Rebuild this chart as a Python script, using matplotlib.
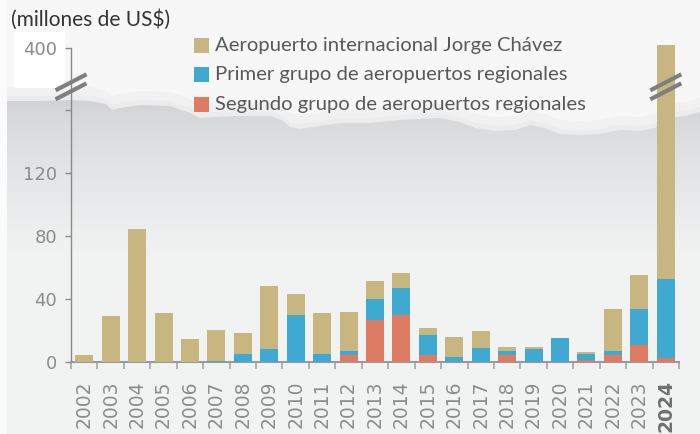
import numpy as np
import matplotlib
matplotlib.use("Agg")
import matplotlib.pyplot as plt
from matplotlib.patches import Rectangle, Polygon
from matplotlib.lines import Line2D

# ---------------- data ----------------
years = [str(y) for y in range(2002, 2025)]
segundo = [0, 0, 0, 0, 0, 0, 0, 0, 0, 0, 4.2, 26.7, 29.8, 4.2, 0, 0, 4.2, 0, 0, 1.3, 4.2, 10.6, 2.3]
primer = [0, 0, 0, 0, 0, 0.8, 5.3, 8.3, 29.8, 5.3, 3.0, 13.3, 17.4, 13.1, 3.2, 9.1, 3.0, 8.3, 15.4, 4.0, 3.0, 23.1, 50.4]
jorge = [4.4, 29.4, 84.4, 31.1, 14.6, 19.5, 13.1, 40.0, 13.4, 25.8, 24.5, 11.4, 9.3, 4.3, 12.7, 10.6, 2.3, 1.2, 0, 1.0, 26.5, 21.5, 359.0]
series_names = ["Aeropuerto internacional Jorge Chávez",
                "Primer grupo de aeropuertos regionales",
                "Segundo grupo de aeropuertos regionales"]
ytick_vals = [0, 40, 80, 120, 160, 400]
ytick_labels = ["0", "40", "80", "120", "", "400"]
title = "(millones de US$)"

C_TAN = "#c8b681"
C_BLUE = "#3fa9d1"
C_RED = "#dd7b63"

BREAK = 160.0
K = 0.164

def fwd(v):
    v = np.asarray(v, dtype=float)
    return np.where(v <= BREAK, v, BREAK + (v - BREAK) * K)

def inv(v):
    v = np.asarray(v, dtype=float)
    return np.where(v <= BREAK, v, BREAK + (v - BREAK) / K)

W, H = 700, 434
fig = plt.figure(figsize=(7, 4.34), dpi=100)
fig.patch.set_facecolor("#f2f3f3")

# ---------------- background (torn paper) ----------------
bg = fig.add_axes([0, 0, 1, 1], zorder=-5)
bg.set_xlim(0, W)
bg.set_ylim(H, 0)
bg.axis("off")
ys = np.linspace(0, 1, 400)
top_c = np.array([0.815, 0.82, 0.83])
bot_c = np.array([0.949, 0.953, 0.953])
t = np.clip((ys * H - 100) / 160.0, 0, 1) ** 0.7
grad = top_c[None, :] * (1 - t[:, None]) + bot_c[None, :] * t[:, None]
bg.imshow(grad[:, None, :], extent=[0, W, H, 0], aspect="auto", zorder=0)

edge = [(700, 112), (685, 116), (670, 118), (655, 128), (640, 131), (620, 130), (600, 134),
        (580, 135), (560, 134), (545, 128), (530, 125), (515, 130), (495, 131), (475, 128),
        (460, 122), (440, 118), (420, 119), (400, 120), (370, 123), (340, 123), (320, 126),
        (300, 129), (290, 127), (282, 120), (270, 116), (250, 116), (235, 116), (215, 117),
        (200, 118), (190, 113), (170, 106), (140, 105), (120, 108), (112, 110), (106, 104),
        (90, 101), (70, 100), (40, 101), (7, 101), (0, 101)]
poly_shadow = [(0, 0), (700, 0)] + edge
bg.add_patch(Polygon(poly_shadow, closed=True, facecolor="#ececed", edgecolor="none", zorder=1))
poly_mid = [(0, 0), (700, 0)] + [(x, y - 5) for x, y in edge]
bg.add_patch(Polygon(poly_mid, closed=True, facecolor="#f1f1f1", edgecolor="none", zorder=2))
poly_white = [(0, 0), (700, 0)] + [(x, y - 14) for x, y in edge]
bg.add_patch(Polygon(poly_white, closed=True, facecolor="#f7f7f7", edgecolor="none", zorder=2))
bg.add_patch(Rectangle((0, 0), 7, H, facecolor="#fbfbfb", edgecolor="none", zorder=3))
bg.add_patch(Rectangle((14, 32), 51, 56, facecolor="white", edgecolor="none", zorder=3))

# ---------------- main axes ----------------
ax = fig.add_axes([71 / W, 1 - 362 / H, (679 - 71) / W, (362 - 45) / H])
ax.patch.set_alpha(0)
ax.set_yscale("function", functions=(fwd, inv))

x = np.arange(len(years))
red = np.array(segundo)
blue = np.array(primer)
tan = np.array(jorge)
bw = 0.68
ax.bar(x, red, width=bw, color=C_RED, linewidth=0, zorder=3)
ax.bar(x, blue, width=bw, bottom=red, color=C_BLUE, linewidth=0, zorder=3)
ax.bar(x, tan, width=bw, bottom=red + blue, color=C_TAN, linewidth=0, zorder=3)

ax.set_xlim(-0.5, len(years) - 0.5)
ax.set_ylim(0, 412)

for s in ["top", "right"]:
    ax.spines[s].set_visible(False)
ax.spines["left"].set_color("#8a8a8a")
ax.spines["left"].set_linewidth(1.0)
ax.spines["left"].set_bounds(0, 400)
ax.spines["bottom"].set_color("#9a9a9a")
ax.spines["bottom"].set_linewidth(1.5)

ax.set_yticks(ytick_vals)
ax.set_yticklabels(ytick_labels)
ax.tick_params(axis="y", length=4, width=1, color="#8a8a8a", pad=6,
               labelsize=13, labelcolor="#8c8c8c")
ax.yaxis.set_minor_locator(matplotlib.ticker.NullLocator())

ax.set_xticks(x)
ax.set_xticklabels(years, rotation=90)
ax.tick_params(axis="x", which="major", length=0, pad=13, labelsize=13.5, labelcolor="#8c8c8c")
ax.set_xticks(np.arange(-0.5, len(years)), minor=True)
ax.tick_params(axis="x", which="minor", length=5, width=1.2, color="#a5a5a5")
for lab in ax.get_xticklabels():
    lab.set_va("top")
last = ax.get_xticklabels()[-1]
last.set_fontweight("bold")
last.set_color("#707070")

# ---------------- overlay: break marks, legend, title ----------------
ov = fig.add_axes([0, 0, 1, 1], zorder=10)
ov.set_xlim(0, W)
ov.set_ylim(0, H)
ov.axis("off")
ov.patch.set_alpha(0)

fig.canvas.draw()

def break_marks(cx, cy):
    for (x0, y0, x1, y1) in [(-15.5, -3.5, 15.5, 12.5), (-15.5, -12.5, 15.5, 3.5)]:
        ov.add_line(Line2D([cx + x0, cx + x1], [cy + y0, cy + y1], color="#7f7f7f",
                           linewidth=3.0, solid_capstyle="butt"))

brk_y_val = 250
cx_axis, cy = ax.transData.transform((-0.5, brk_y_val))
break_marks(cx_axis, cy)
cx_bar, _ = ax.transData.transform((x[-1], brk_y_val))
break_marks(cx_bar, cy)

leg_colors = [C_TAN, C_BLUE, C_RED]
leg_y = [45, 74.5, 104.5]
for name, col, yy in zip(series_names, leg_colors, leg_y):
    ov.add_patch(Rectangle((194, H - yy - 7.5), 15, 15, facecolor=col, edgecolor="none"))
    ov.text(215, H - yy, name, fontsize=14.6, color="#58595b", va="center", ha="left",
            family=["Lato", "DejaVu Sans"])

ov.text(11, H - 20, title, fontsize=15, color="#333333", va="center", ha="left",
        family=["Lato", "DejaVu Sans"])

fig.savefig("out.png", dpi=100, facecolor=fig.get_facecolor())
